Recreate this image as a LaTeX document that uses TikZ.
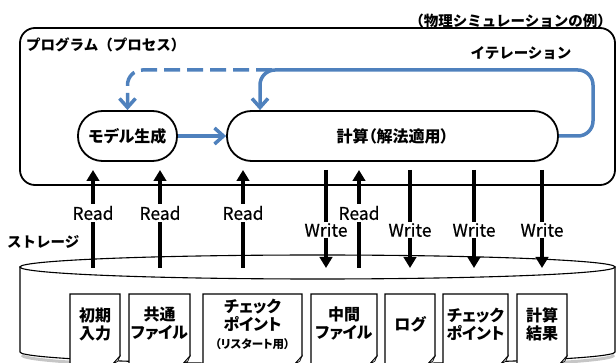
\documentclass[tikz,border=0pt]{standalone}
\usepackage{fontspec}
\newfontfamily\jp[RawFeature=+palt]{Noto Sans CJK JP}
\newfontfamily\jpn{Noto Sans CJK JP}
\newfontfamily\jplat[FakeBold=0.5]{Noto Sans CJK JP}
\usetikzlibrary{arrows.meta,calc}
\definecolor{iterblue}{RGB}{79,129,189}
\newcommand\drawdocpaper[4]{%
  \draw[docline] ({#2},294) -- ({#3},294) -- ({#3},356) -- ({#3-8},365) -- ({#2},365) -- cycle;
  \draw[docline, line width=0.6pt, fill=gray!30] ({#3},356) -- ({#3-8},365) -- ({#3-2},361) -- cycle;
  \node[doctext] (#1) at ({(#2+#3)/2},324) {#4};
}
\begin{document}
\begin{tikzpicture}[x=1pt,y=-1pt,
  frame/.style={draw=black, line width=1.8pt, rounded corners=15pt},
  procbox/.style={draw=black, line width=1.8pt, rounded corners=24.5pt, minimum height=50pt, inner sep=0pt, font=\jp\bfseries\fontsize{16}{16}\selectfont},
  iter/.style={draw=iterblue, line width=3.5pt, rounded corners=15pt},
  iterhead/.style={-{Straight Barb[length=9pt,width=16pt]}},
  rwarrow/.style={line width=3.6pt, -{Triangle[length=11pt,width=12.5pt]}},
  rwlabel/.style={fill=white, inner sep=1.5pt, font=\jplat\fontsize{17.5}{17.5}\selectfont},
  title/.style={font=\jpn\bfseries\fontsize{14.5}{15}\selectfont, inner sep=0pt},
  docline/.style={draw=black, line width=1.1pt, fill=white},
  doctext/.style={font=\jp\bfseries\fontsize{16}{18}\selectfont, align=center, inner sep=0pt},
]
\useasboundingbox (0,0) rectangle (616,363);

% storage cylinder
\draw[gray!45, line width=3pt] (22,355) arc[start angle=180, end angle=0, x radius=296, y radius=13];
\draw[line width=1.1pt, fill=white] (20,267) -- (20,352) arc[start angle=180, end angle=0, x radius=297.5, y radius=12] -- (615,267) -- cycle;
\draw[line width=1.1pt, fill=white] (317.5,267) ellipse[x radius=297.5, y radius=12];
\node[title, anchor=west] (storage) at (7,242) {ストレージ};

% documents
\drawdocpaper{d1}{70}{120}{初期\\入力}
\drawdocpaper{d2}{129}{190}{共通\\ファイル}
\drawdocpaper{d3}{203}{302}{チェック\\ポイント\\{\fontsize{11.5}{13}\selectfont （リスタート用）}}
\drawdocpaper{d4}{311}{377}{中間\\ファイル}
\drawdocpaper{d5}{385}{435}{ログ}
\drawdocpaper{d6}{443}{508}{チェック\\ポイント}
\drawdocpaper{d7}{517}{567}{計算\\結果}

% program frame
\draw[frame] (20,28) rectangle (615,185);
\node[title, anchor=east] (example) at (612,21) {（物理シミュレーションの例）};
\node[title, anchor=west] (program) at (26,45) {プログラム（プロセス）};
\node[title] (iterlabel) at (521,53) {イテレーション};

% process nodes
\node[procbox, minimum width=99pt] (model) at (127.5,136) {モデル生成};
\node[procbox, minimum width=331pt] (calc) at (392.5,136) {計算（解法適用）};

% blue flows
\coordinate (loopR) at (593,70);
\coordinate (loopL) at (260,70);
\coordinate (branch) at (272,70);
\draw[iter, iterhead] (model.east) -- (calc.west);
\draw[iter, iterhead, dash pattern=on 16pt off 7pt] (branch) -| (model.north);
\draw[iter, iterhead] (calc.east) -| (loopR) -| (loopL |- calc.north);

% read arrows
\foreach \x/\k in {93/1,160/2,243/3,359/4}{
  \coordinate (rs\k) at (\x,268);
  \coordinate (re\k) at (\x,170);
  \draw[rwarrow] (rs\k) -- (re\k);
  \node[rwlabel] (rl\k) at (\x,213) {Read};
}
% write arrows
\foreach \x/\k in {326/1,410/2,474/3,542/4}{
  \coordinate (ws\k) at (\x,170);
  \coordinate (we\k) at (\x,268);
  \draw[rwarrow] (ws\k) -- (we\k);
  \node[rwlabel] (wl\k) at (\x,230) {Write};
}
\end{tikzpicture}
\end{document}
